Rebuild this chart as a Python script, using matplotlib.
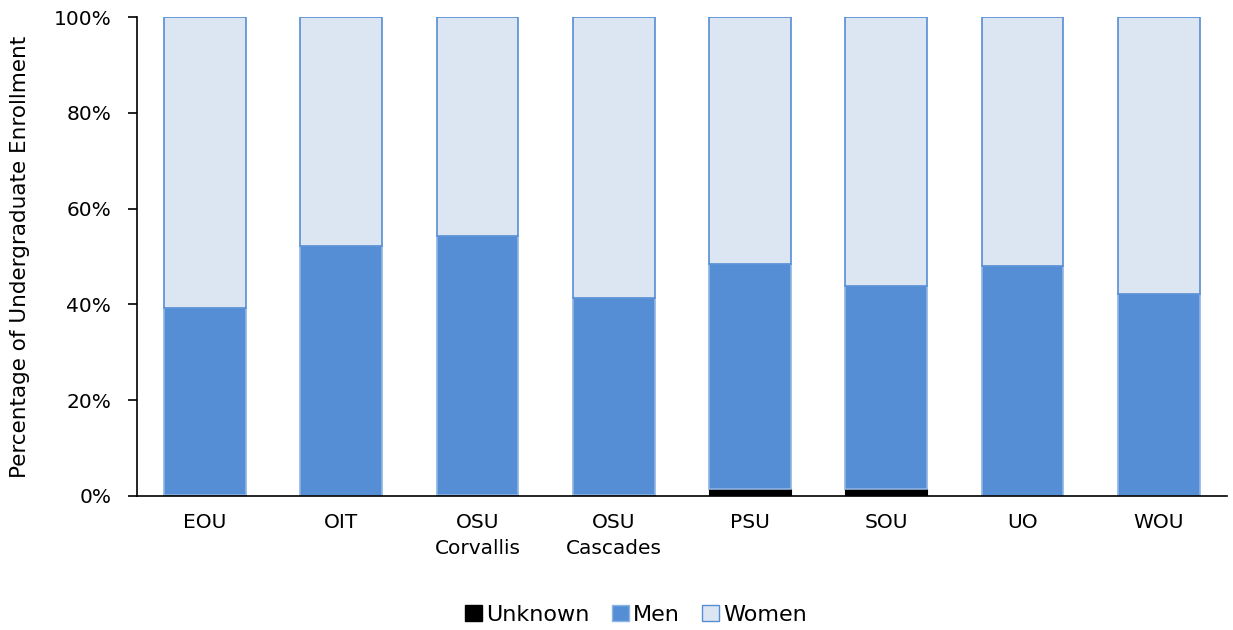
import matplotlib.pyplot as plt
from matplotlib.patches import Patch
from matplotlib.ticker import PercentFormatter

plt.rcParams['font.family'] = ['DejaVu Sans']

# Share of undergraduate enrollment (%)
campuses = ["EOU", "OIT", "OSU\nCorvallis", "OSU\nCascades", "PSU", "SOU", "UO", "WOU"]
unknown = [0.3, 0.0, 0.2, 0.3, 1.4, 1.4, 0.0, 0.0]
men = [38.9, 52.2, 54.1, 41.0, 47.0, 42.4, 48.0, 42.2]
women = [100 - u - m for u, m in zip(unknown, men)]

fig = plt.figure(figsize=(12.33, 6.3), dpi=100)
ax = fig.add_axes([0.111, 0.2127, 0.884, 0.7603])

x = range(len(campuses))
w = 0.6
ax.bar(x, unknown, w, color="black", edgecolor="black", linewidth=0.8)
ax.bar(x, men, w, bottom=unknown, color="#558ED5", edgecolor="#8EB4E3", linewidth=1.2)
bottoms = [u + m for u, m in zip(unknown, men)]
ax.bar(x, women, w, bottom=bottoms, color="#DCE6F2", edgecolor="#558ED5", linewidth=1.2)

ax.set_xlim(-0.5, len(campuses) - 0.5)
ax.set_ylim(0, 100)
ax.set_yticks(range(0, 101, 20))
ax.yaxis.set_major_formatter(PercentFormatter(decimals=0))
ax.set_xticks(list(x))
ax.set_xticklabels(campuses, fontsize=14.5, linespacing=1.5)
ax.tick_params(axis="x", length=0, pad=12)
ax.tick_params(axis="y", labelsize=14.5, length=6.5, width=1.2, direction="out", pad=12)
for s in ["top", "right"]:
    ax.spines[s].set_visible(False)
ax.spines["left"].set_linewidth(1.2)
ax.spines["bottom"].set_linewidth(1.2)
ax.set_ylabel("Percentage of Undergraduate Enrollment", fontsize=15.5, labelpad=17)

handles = [Patch(facecolor="black", edgecolor="black"),
           Patch(facecolor="#558ED5", edgecolor="#8EB4E3"),
           Patch(facecolor="#DCE6F2", edgecolor="#558ED5")]
fig.legend(handles, ["Unknown", "Men", "Women"], loc="center", bbox_to_anchor=(0.516, 0.024),
           ncol=3, frameon=False, fontsize=16, handlelength=0.75, handleheight=0.75,
           handletextpad=0.2, columnspacing=1.0)

fig.savefig("out.png", dpi=100)
